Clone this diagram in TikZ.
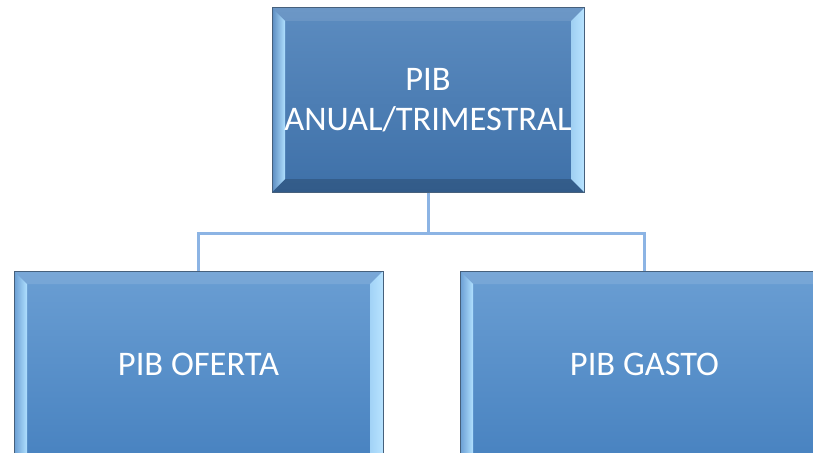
\documentclass[tikz,border=0pt]{standalone}
\usepackage{fontspec}
\setmainfont{Carlito}
\usepackage{xcolor}
\usepackage{tikz}
\usetikzlibrary{positioning}

\definecolor{boxedge}{RGB}{70,96,124}
\definecolor{linkblue}{RGB}{140,180,228}
\definecolor{bevlight}{RGB}{176,224,255}
\definecolor{topA}{RGB}{92,140,192}
\definecolor{topB}{RGB}{62,112,168}
\definecolor{lowA}{RGB}{106,158,211}
\definecolor{lowB}{RGB}{72,134,200}

\tikzset{
  bevelbox/.style={draw=boxedge, line width=1pt, text=white, align=center,
    inner sep=0pt, font=\fontsize{34.5}{40}\selectfont,
    path picture={
      \fill[white, opacity=0.10]
        (path picture bounding box.north west) --
        ([xshift=13pt,yshift=-13pt]path picture bounding box.north west) --
        ([xshift=-13pt,yshift=-13pt]path picture bounding box.north east) --
        (path picture bounding box.north east) -- cycle;
      \fill[black, opacity=0.18]
        (path picture bounding box.south west) --
        ([xshift=13pt,yshift=13pt]path picture bounding box.south west) --
        ([xshift=-13pt,yshift=13pt]path picture bounding box.south east) --
        (path picture bounding box.south east) -- cycle;
      \shade[left color=#1, right color=bevlight]
        (path picture bounding box.north west) --
        ([xshift=13pt,yshift=-13pt]path picture bounding box.north west) --
        ([xshift=13pt,yshift=13pt]path picture bounding box.south west) --
        (path picture bounding box.south west) -- cycle;
      \shade[left color=bevlight!80!#1, right color=bevlight!90!white]
        (path picture bounding box.north east) --
        ([xshift=-13pt,yshift=-13pt]path picture bounding box.north east) --
        ([xshift=-13pt,yshift=13pt]path picture bounding box.south east) --
        (path picture bounding box.south east) -- cycle;
    }},
  headbox/.style={bevelbox=topA, top color=topA, bottom color=topB,
    minimum width=312pt, minimum height=184pt},
  leafbox/.style={bevelbox=lowA, top color=lowA, bottom color=lowB!95!black,
    minimum width=369pt, minimum height=210pt},
  link/.style={draw=linkblue, line width=3pt}
}

\begin{document}
\begin{tikzpicture}[x=1pt,y=-1pt]
\useasboundingbox (0,0) rectangle (813,452);
\clip (0,0) rectangle (813,452);
\fill[white] (0,0) rectangle (813,452);
% boxes
\node[headbox] (pib) at (428,100) {PIB\\ANUAL/TRIMESTRAL};
\node[leafbox] (oferta) at (198.5,376) {\raisebox{1pt}[0pt][0pt]{PIB OFERTA}};
\node[leafbox] (gasto) at (644.5,376) {\raisebox{1pt}[0pt][0pt]{PIB GASTO}};
% connectors
\draw[link] (pib.south) -- ++(0,41) coordinate (fork) -| (oferta.north);
\draw[link] (fork) -| (gasto.north);
\end{tikzpicture}
\end{document}
